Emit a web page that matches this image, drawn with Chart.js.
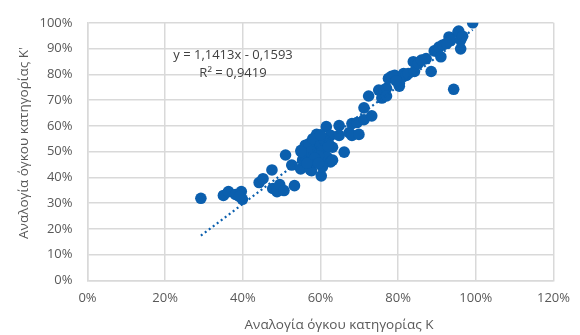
<!DOCTYPE html>
<html>
<head>
<meta charset="utf-8">
<script src="https://cdn.jsdelivr.net/npm/chart.js@4"></script>
<style>
  html, body { margin: 0; padding: 0; background: #fff; }
  #wrap { width: 580px; height: 335px; position: relative; }
</style>
</head>
<body>
<div id="wrap"><canvas id="c" width="580" height="335"></canvas></div>
<script>
// values in %
const kShare = [
  29.2, 35.0, 36.3, 38.1, 39.6, 39.9, 39.1, 44.2, 45.2, 47.5, 47.7, 48.8, 49.5, 50.6, 53.3,
  51.0, 52.6, 54.9, 57.7, 60.2, 57.4, 56.1, 56.7, 57.2, 55.4, 58.2, 59.2, 58.7, 59.0, 60.5,
  59.7, 61.0, 61.5, 61.7, 62.6, 62.6, 63.1, 60.5, 63.1, 55.0, 57.0, 59.5, 64.8, 64.8, 66.1,
  67.4, 68.1, 68.1, 69.4, 69.9, 71.2, 71.2, 72.4, 73.2, 75.0, 75.8, 76.3, 77.0, 77.0, 77.5,
  78.3, 79.1, 80.3, 80.3, 81.4, 82.1, 82.6, 84.2, 83.9, 85.2, 87.2, 88.5, 89.3, 89.8, 90.5,
  91.0, 91.5, 93.1, 93.6, 94.3, 95.4, 95.6, 96.1, 96.1, 96.6, 99.2, 58.0, 56.5, 62.0,
  57.5, 58.5, 60.0, 59.5, 56.5, 61.0, 62.0, 55.0, 60.0, 79.5, 86.0, 92.5
];
const kPrimeShare = [
  31.9, 33.0, 34.5, 33.4, 34.5, 31.5, 32.6, 38.0, 39.5, 42.9, 35.7, 34.5, 37.2, 34.9, 36.8,
  48.7, 44.8, 43.3, 42.6, 40.6, 42.9, 52.5, 49.8, 47.9, 46.8, 46.0, 51.7, 54.4, 56.7, 53.6,
  49.8, 50.6, 59.7, 47.9, 46.0, 56.3, 46.7, 44.1, 51.7, 50.5, 53.0, 48.5, 60.1, 56.3, 49.8,
  57.4, 60.9, 56.3, 61.3, 56.7, 62.4, 67.0, 71.6, 63.9, 73.9, 70.8, 73.9, 74.6, 71.6, 78.4,
  79.2, 79.6, 75.4, 76.5, 80.3, 79.6, 80.3, 81.1, 84.9, 84.2, 86.1, 81.1, 89.1, 89.1, 90.6,
  86.8, 91.4, 94.5, 93.3, 74.2, 96.4, 96.8, 93.3, 89.9, 94.8, 100.0, 55.0, 45.5, 53.5,
  50.0, 47.5, 52.5, 45.5, 45.5, 54.5, 52.0, 50.0, 56.5, 77.5, 85.5, 92.0
];
const trendX = [29.2, 99.2];
const trendY = [17.4, 97.3];
const equationLines = ['y = 1,1413x - 0,1593', 'R² = 0,9419'];
const xTitle = 'Αναλογία όγκου κατηγορίας Κ';
const yTitle = 'Αναλογία όγκου κατηγορίας Κ\'';

const blue = '#0b5fae';
const gridGrey = '#d9d9d9';
const textGrey = '#595959';
const FONT = '"Open Sans", "Noto Sans", sans-serif';

const textPlugin = {
  id: 'texts',
  afterDraw(chart) {
    const ctx = chart.ctx;
    ctx.save();
    ctx.fillStyle = '#404040';
    ctx.font = '13px ' + FONT;
    ctx.textAlign = 'center';
    ctx.textBaseline = 'middle';
    ctx.fillText(equationLines[0], 233, 55);
    ctx.fillText(equationLines[1], 233, 73);
    ctx.fillStyle = textGrey;
    ctx.font = '13.5px ' + FONT;
    ctx.fillText(xTitle, 339, 325);
    ctx.translate(24, 143);
    ctx.rotate(-Math.PI / 2);
    ctx.fillText(yTitle, 0, 0);
    ctx.restore();
  }
};

new Chart(document.getElementById('c'), {
  type: 'scatter',
  data: {
    datasets: [
      {
        label: 'points',
        data: kShare.map((x, i) => ({x, y: kPrimeShare[i]})),
        backgroundColor: blue,
        borderColor: blue,
        pointRadius: 5.8,
        pointBorderWidth: 0,
        order: 2
      },
      {
        label: 'trend',
        type: 'line',
        data: trendX.map((x, i) => ({x, y: trendY[i]})),
        borderColor: blue,
        borderWidth: 2.2,
        borderDash: [2, 3],
        pointRadius: 0,
        fill: false,
        order: 1
      }
    ]
  },
  options: {
    responsive: false,
    animation: false,
    layout: {padding: {top: 18, right: 21, left: 0, bottom: 0}},
    plugins: {legend: {display: false}, tooltip: {enabled: false}},
    scales: {
      x: {
        type: 'linear', min: 0, max: 120,
        afterFit: s => { s.height = 54.5; },
        ticks: {stepSize: 20, callback: v => v + '%', color: textGrey, font: {family: FONT, size: 13}, padding: 10, maxRotation: 0},
        grid: {color: gridGrey, lineWidth: 1.5, drawTicks: false},
        border: {color: gridGrey, width: 1.5}
      },
      y: {
        type: 'linear', min: 0, max: 100,
        afterFit: s => { s.width = 87.5; },
        ticks: {stepSize: 10, callback: v => v + '%', color: textGrey, font: {family: FONT, size: 13}, padding: 15},
        grid: {color: gridGrey, lineWidth: 1.5, drawTicks: false},
        border: {color: gridGrey, width: 1.5}
      }
    }
  },
  plugins: [textPlugin]
});
</script>
</body>
</html>
